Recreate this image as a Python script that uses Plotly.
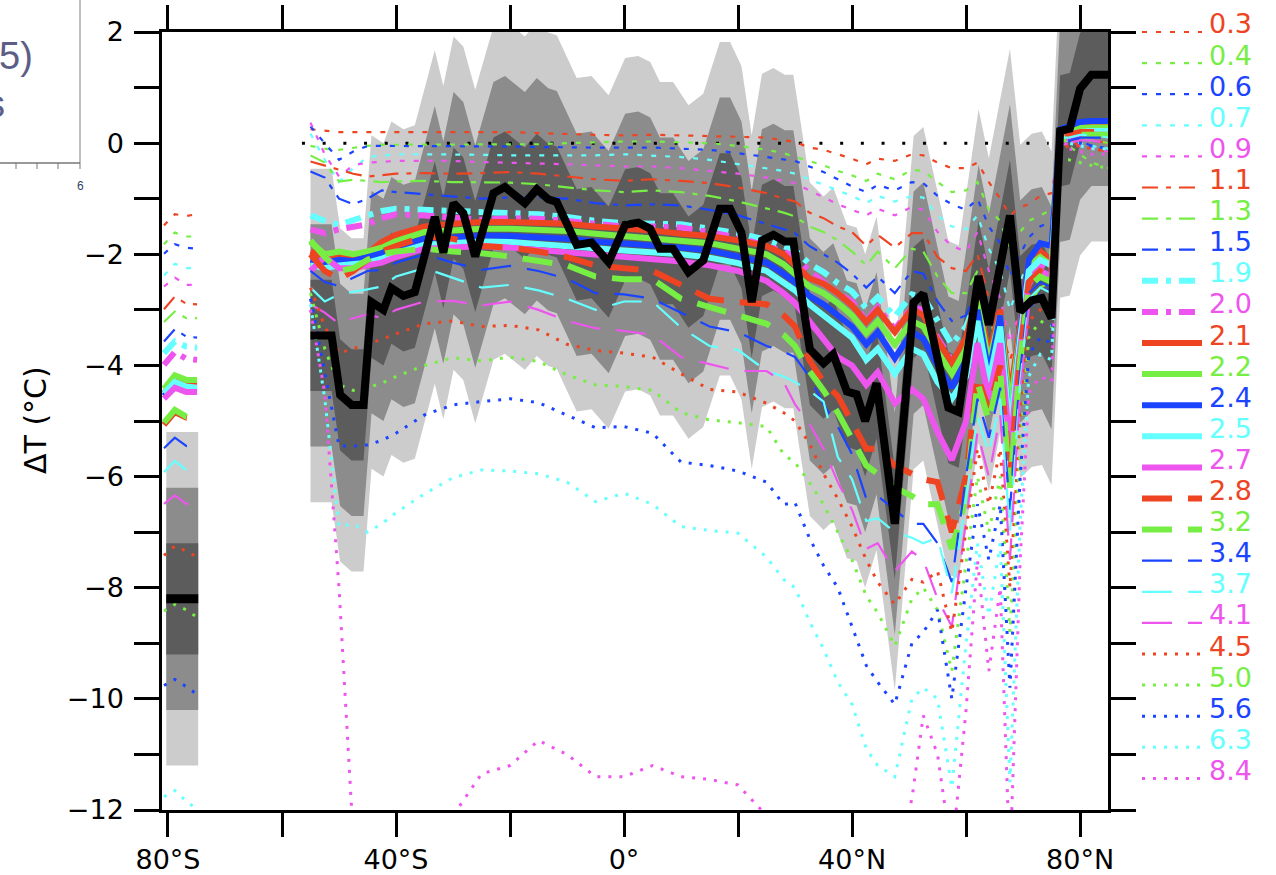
import plotly.graph_objects as go

# ---------------- data ----------------
SENS = ["0.3", "0.4", "0.6", "0.7", "0.9", "1.1", "1.3", "1.5", "1.9", "2.0",
        "2.1", "2.2", "2.4", "2.5", "2.7", "2.8", "3.2", "3.4", "3.7", "4.1",
        "4.5", "5.0", "5.6", "6.3", "8.4"]

LAT_M = [-55, -52.5, -50, -47.5, -45, -42.5, -40, -35, -30, -25, -20, -15, -10, -5,
         0, 5, 10, 15, 20, 25, 28, 30, 32.5, 35, 37.5, 40, 42.5, 44.5, 47.5, 50.5,
         52.5, 55, 57.5, 60, 62, 64, 66, 67.7, 69.5, 71, 73, 75, 76.5, 78, 80, 82, 85]
LAT_ANT = [-80.7, -78.8, -76.8, -74.9]

dT_0_3 = [0.25, 0.22, 0.2, 0.2, 0.2, 0.2, 0.2,
          0.2, 0.19, 0.2, 0.2, 0.18, 0.16, 0.15, 0.14, 0.15, 0.14, 0.13, 0.12, 0.1,
          0.05, 0.02, -0.08, -0.12, -0.2, -0.28, -0.38, -0.28, -0.32, -0.2, -0.22, -0.35, -0.45, -0.45,
          -0.35, -0.7, -1.0, -1.3, -1.15, -1.1, -0.95, -0.9, 0.0, 0.05, -0.05, -0.1, -0.15]
dT_0_4 = [-0.05, -0.1, -0.12, -0.08, -0.05, -0.03, -0.03,
          -0.03, -0.03, -0.02, -0.02, -0.02, 0.0, 0.02, 0.03, 0.03, 0.02, 0.0, -0.05, -0.12,
          -0.18, -0.25, -0.32, -0.4, -0.5, -0.58, -0.68, -0.55, -0.65, -0.48, -0.5, -0.7, -0.88, -0.85,
          -0.7, -1.2, -1.4, -1.9, -1.6, -1.4, -1.3, -1.2, -0.1, -0.05, -0.2, -0.35, -0.45]
dT_0_6 = [0.3, 0.0, -0.3, -0.15, -0.05, -0.05, -0.05,
          -0.05, -0.05, -0.06, -0.06, -0.07, -0.08, -0.08, -0.08, -0.08, -0.1, -0.12, -0.18, -0.25,
          -0.28, -0.32, -0.42, -0.52, -0.65, -0.78, -0.88, -0.75, -0.85, -0.7, -0.72, -0.95, -1.1, -1.2,
          -1.0, -1.5, -1.8, -2.4, -2.0, -1.7, -1.5, -1.4, 0.1, 0.15, 0.05, -0.05, -0.1]
dT_0_7 = [0.17, -0.3, -0.7, -0.45, -0.25, -0.22, -0.2,
          -0.2, -0.2, -0.21, -0.22, -0.22, -0.22, -0.22, -0.2, -0.22, -0.25, -0.3, -0.38, -0.45,
          -0.5, -0.55, -0.65, -0.75, -0.85, -0.95, -1.08, -0.95, -1.05, -0.95, -0.98, -1.3, -1.5, -1.55,
          -1.3, -1.9, -2.3, -3.0, -2.5, -2.1, -1.9, -1.8, 0.0, 0.05, 0.0, -0.05, -0.1]
dT_0_9 = [0.37, -0.2, -0.6, -0.4, -0.35, -0.33, -0.32,
          -0.32, -0.32, -0.34, -0.35, -0.36, -0.38, -0.4, -0.42, -0.42, -0.45, -0.5, -0.55, -0.62,
          -0.68, -0.72, -0.85, -0.98, -1.1, -1.2, -1.3, -1.18, -1.3, -1.15, -1.2, -1.6, -1.85, -1.95,
          -1.6, -2.3, -2.8, -3.6, -3.0, -2.6, -2.3, -2.2, -0.05, 0.0, -0.05, -0.1, -0.15]
dT_1_1 = [-0.33, -0.4, -0.47, -0.55, -0.6, -0.57, -0.55,
          -0.54, -0.55, -0.54, -0.52, -0.55, -0.6, -0.65, -0.68, -0.65, -0.68, -0.72, -0.8, -0.9,
          -1.0, -1.05, -1.25, -1.35, -1.5, -1.6, -1.85, -1.65, -1.88, -1.62, -1.62, -2.05, -2.25, -2.3,
          -2.0, -2.8, -3.3, -3.9, -3.4, -2.7, -2.5, -2.4, 0.1, 0.15, 0.1, 0.05, 0.0]
dT_1_3 = [-0.22, -0.35, -0.69, -0.66, -0.68, -0.7, -0.69,
          -0.68, -0.7, -0.7, -0.71, -0.74, -0.8, -0.85, -0.88, -0.85, -0.88, -0.95, -1.05, -1.18,
          -1.25, -1.32, -1.5, -1.6, -1.75, -1.95, -2.2, -1.95, -2.25, -1.9, -1.95, -2.4, -2.7, -2.7,
          -2.3, -3.2, -3.6, -4.3, -3.8, -2.9, -2.6, -2.5, 0.05, 0.1, 0.1, 0.05, 0.0]
dT_1_5 = [-0.51, -0.62, -1.0, -1.1, -1.0, -0.85, -0.88,
          -0.92, -0.97, -1.0, -0.98, -0.98, -1.0, -1.08, -1.12, -1.1, -1.12, -1.2, -1.3, -1.45,
          -1.55, -1.62, -1.85, -2.0, -2.15, -2.35, -2.6, -2.4, -2.7, -2.3, -2.35, -2.85, -3.2, -3.1,
          -2.6, -3.6, -3.9, -4.7, -4.0, -3.0, -2.7, -2.6, 0.1, 0.15, 0.2, 0.2, 0.15]
dT_1_9 = [-1.3, -1.4, -1.47, -1.38, -1.3, -1.22, -1.18,
          -1.2, -1.24, -1.25, -1.27, -1.28, -1.33, -1.4, -1.44, -1.44, -1.46, -1.54, -1.62, -1.74,
          -1.85, -1.93, -2.17, -2.32, -2.52, -2.67, -2.97, -2.77, -3.12, -2.72, -2.77, -3.22, -3.62, -3.3,
          -2.8, -3.8, -3.4, -4.9, -3.5, -2.4, -2.1, -2.2, 0.2, 0.25, 0.3, 0.3, 0.25]
dT_2_0 = [-1.55, -1.62, -1.55, -1.5, -1.46, -1.35, -1.28,
          -1.3, -1.35, -1.38, -1.35, -1.36, -1.4, -1.46, -1.5, -1.5, -1.52, -1.6, -1.7, -1.85,
          -1.95, -2.05, -2.3, -2.5, -2.7, -2.85, -3.2, -2.95, -3.35, -2.95, -3.0, -3.5, -3.9, -3.6,
          -3.0, -4.0, -3.5, -5.0, -3.6, -2.5, -2.2, -2.3, 0.15, 0.2, 0.25, 0.25, 0.2]
dT_2_1 = [-1.95, -2.05, -2.0, -2.05, -1.98, -1.78, -1.65,
          -1.5, -1.45, -1.42, -1.42, -1.43, -1.45, -1.5, -1.53, -1.57, -1.63, -1.67, -1.75, -1.85,
          -2.0, -2.18, -2.43, -2.53, -2.7, -2.92, -3.22, -3.0, -3.4, -2.98, -3.1, -3.55, -3.95, -3.5,
          -2.7, -3.8, -3.0, -4.6, -3.3, -2.1, -1.95, -2.1, 0.15, 0.22, 0.3, 0.35, 0.35]
dT_2_2 = [-1.78, -2.0, -1.95, -2.0, -1.95, -1.88, -1.76,
          -1.6, -1.57, -1.54, -1.54, -1.56, -1.58, -1.63, -1.67, -1.7, -1.76, -1.8, -1.9, -2.0,
          -2.18, -2.35, -2.58, -2.7, -2.88, -3.1, -3.42, -3.2, -3.62, -3.2, -3.3, -3.75, -4.15, -3.7,
          -2.85, -3.95, -3.1, -4.8, -3.4, -2.2, -2.05, -2.2, 0.2, 0.25, 0.28, 0.28, 0.28]
dT_2_4 = [-2.1, -2.15, -2.1, -2.12, -2.05, -1.98, -1.88,
          -1.72, -1.7, -1.66, -1.67, -1.69, -1.72, -1.77, -1.8, -1.83, -1.88, -1.93, -2.03, -2.15,
          -2.35, -2.5, -2.75, -2.9, -3.1, -3.3, -3.62, -3.4, -3.87, -3.4, -3.52, -4.0, -4.4, -3.9,
          -3.0, -4.15, -3.1, -5.3, -3.4, -2.1, -1.8, -1.85, 0.25, 0.3, 0.38, 0.4, 0.4]
dT_2_5 = [-2.2, -2.25, -2.2, -2.18, -2.15, -2.08, -1.98,
          -1.83, -1.8, -1.77, -1.78, -1.81, -1.84, -1.89, -1.93, -1.96, -2.0, -2.06, -2.16, -2.3,
          -2.5, -2.65, -2.9, -3.1, -3.32, -3.5, -3.9, -3.7, -4.15, -3.7, -3.8, -4.3, -4.6, -4.2,
          -3.2, -4.3, -3.3, -5.2, -3.5, -2.3, -2.1, -2.2, 0.1, 0.15, 0.2, 0.22, 0.22]
dT_2_7 = [-2.3, -2.05, -2.25, -2.25, -2.2, -2.15, -2.05,
          -1.9, -1.88, -1.85, -1.88, -1.92, -1.95, -2.0, -2.05, -2.08, -2.13, -2.2, -2.3, -2.48,
          -2.7, -2.88, -3.2, -3.5, -3.85, -4.0, -4.35, -4.12, -4.68, -4.43, -4.6, -5.2, -5.7, -5.0,
          -3.6, -4.6, -3.6, -5.5, -3.7, -2.5, -2.3, -2.4, 0.05, 0.1, 0.15, 0.15, 0.15]
dT_2_8 = [-2.0, -2.3, -2.45, -2.3, -2.1, -1.95, -1.85,
          -1.68, -1.72, -1.85, -1.88, -1.95, -2.05, -2.2, -2.25, -2.3, -2.55, -2.8, -2.86, -2.9,
          -3.1, -3.3, -3.9, -4.3, -4.55, -5.0, -5.5, -5.5, -5.8, -5.95, -6.05, -6.1, -7.0, -6.0,
          -4.2, -4.8, -4.0, -6.0, -3.8, -2.5, -2.3, -2.4, 0.1, 0.15, 0.2, 0.2, 0.2]
dT_3_2 = [-1.75, -2.05, -2.3, -2.25, -2.1, -2.0, -1.95,
          -1.9, -1.95, -1.98, -2.04, -2.12, -2.2, -2.4, -2.45, -2.45, -2.8, -2.95, -3.1, -3.25,
          -3.45, -3.65, -4.1, -4.45, -4.85, -5.3, -5.8, -5.95, -6.2, -6.35, -6.5, -6.5, -7.3, -6.4,
          -4.3, -5.0, -4.1, -6.2, -3.9, -2.6, -2.4, -2.5, 0.05, 0.1, 0.15, 0.15, 0.15]
dT_3_4 = [-2.3, -2.5, -2.57, -2.42, -2.3, -2.28, -2.15,
          -2.0, -2.15, -2.28, -2.21, -2.3, -2.44, -2.7, -2.72, -2.8, -3.05, -3.3, -3.4, -3.65,
          -3.75, -3.85, -4.2, -4.7, -5.1, -5.6, -6.4, -6.35, -6.6, -6.85, -6.85, -7.2, -7.9, -6.0,
          -4.6, -5.3, -4.4, -6.6, -4.1, -2.7, -2.5, -2.6, 0.0, 0.05, 0.1, 0.1, 0.1]
dT_3_7 = [-2.6, -2.85, -2.72, -2.68, -2.63, -2.58, -2.4,
          -2.25, -2.43, -2.6, -2.55, -2.65, -2.8, -3.0, -2.85, -2.85, -3.32, -3.65, -3.72, -4.1,
          -4.2, -4.3, -4.45, -4.65, -5.65, -6.05, -6.8, -6.75, -7.0, -7.1, -7.2, -7.1, -8.1, -6.4,
          -4.9, -5.6, -4.6, -7.0, -4.3, -2.8, -2.6, -2.7, 0.1, 0.1, 0.15, 0.15, 0.1]
dT_4_1 = [-2.9, -3.05, -3.25, -3.15, -3.08, -3.15, -3.0,
          -2.85, -2.84, -2.92, -2.85, -3.0, -3.2, -3.33, -3.38, -3.45, -3.85, -3.98, -4.1, -4.1,
          -4.3, -4.7, -5.05, -5.5, -6.1, -6.6, -7.3, -7.2, -7.7, -7.35, -7.5, -8.2, -8.7, -6.8,
          -5.2, -6.0, -4.9, -7.5, -4.5, -3.0, -2.8, -2.9, 0.0, 0.0, 0.05, 0.05, 0.0]
dT_4_5 = [-2.6, -3.3, -3.78, -3.7, -3.62, -3.53, -3.43,
          -3.25, -3.2, -3.3, -3.28, -3.36, -3.62, -3.73, -3.78, -3.85, -4.15, -4.43, -4.48, -4.68,
          -4.85, -5.0, -5.4, -5.95, -6.4, -6.9, -7.5, -7.9, -8.3, -7.85, -7.9, -7.7, -8.8, -7.0,
          -5.5, -6.5, -5.5, -8.0, -5.0, -3.2, -3.0, -3.1, -0.1, -0.05, -0.05, -0.1, -0.15]
dT_5_0 = [-2.7, -3.7, -4.35, -4.45, -4.4, -4.32, -4.2,
          -4.0, -3.86, -3.92, -3.85, -3.93, -4.17, -4.35, -4.38, -4.45, -4.85, -4.98, -5.03, -5.1,
          -5.6, -5.75, -6.1, -6.5, -7.0, -7.5, -8.15, -8.45, -9.05, -8.2, -8.0, -8.4, -9.5, -7.5,
          -6.0, -7.0, -6.0, -8.8, -5.5, -3.5, -3.2, -3.3, -0.3, -0.3, -0.35, -0.4, -0.45]
dT_5_6 = [-2.8, -4.1, -5.45, -5.45, -5.43, -5.35, -5.22,
          -4.89, -4.71, -4.65, -4.6, -4.67, -4.9, -5.12, -5.1, -5.22, -5.74, -5.8, -5.9, -6.1,
          -6.5, -6.47, -7.1, -7.6, -8.0, -8.7, -9.4, -9.7, -10.1, -9.0, -8.8, -8.4, -10.0, -8.0,
          -6.5, -7.5, -6.5, -9.8, -6.0, -3.8, -3.5, -3.6, 0.1, 0.05, 0.0, -0.05, -0.1]
dT_6_3 = [-2.9, -4.6, -6.9, -6.85, -7.0, -6.85, -6.65,
          -6.31, -6.02, -5.88, -5.9, -5.95, -6.1, -6.45, -6.3, -6.5, -6.9, -6.97, -7.02, -7.45,
          -7.85, -8.0, -8.6, -9.1, -9.7, -10.1, -10.9, -11.2, -11.4, -10.0, -9.8, -10.0, -11.6, -9.0,
          -7.2, -8.5, -7.2, -11.5, -6.8, -4.2, -3.8, -3.9, 0.0, 0.0, -0.05, -0.1, -0.1]
dT_8_4 = [-3.0, -4.5, -8.0, -12.5, -14.0, -15.0, -15.0,
          -13.5, -12.1, -11.35, -11.2, -10.75, -11.0, -11.4, -11.4, -11.2, -11.4, -11.45, -11.55, -12.1,
          -13.0, -13.5, -14.0, -14.5, -15.0, -15.0, -15.0, -14.5, -13.0, -11.8, -10.3, -11.0, -12.8, -10.2,
          -7.5, -9.5, -8.0, -13.0, -7.5, -4.5, -4.2, -4.3, -0.1, -0.1, -0.15, -0.2, -0.2]

ant_0_3 = [-1.48, -1.28, -1.31, -1.28]
ant_0_4 = [-1.82, -1.61, -1.68, -1.68]
ant_0_6 = [-1.99, -1.82, -1.88, -1.9]
ant_0_7 = [-2.38, -2.17, -2.25, -2.25]
ant_0_9 = [-2.58, -2.42, -2.55, -2.55]
ant_1_1 = [-2.99, -2.76, -2.89, -2.9]
ant_1_3 = [-3.22, -3.03, -3.15, -3.15]
ant_1_5 = [-3.57, -3.35, -3.48, -3.5]
ant_1_9 = [-3.78, -3.57, -3.66, -3.68]
ant_2_0 = [-3.99, -3.76, -3.88, -3.9]
ant_2_1 = [-4.5, -4.25, -4.33, -4.33]
ant_2_2 = [-4.42, -4.18, -4.26, -4.26]
ant_2_4 = [-4.55, -4.34, -4.42, -4.42]
ant_2_5 = [-4.5, -4.3, -4.38, -4.4]
ant_2_7 = [-4.6, -4.4, -4.48, -4.48]
ant_2_8 = [-5.07, -4.84, -4.94, -4.96]
ant_3_2 = [-5.03, -4.8, -4.92, -4.94]
ant_3_4 = [-5.49, -5.3, -5.45, -5.47]
ant_3_7 = [-5.92, -5.72, -5.88, -5.9]
ant_4_1 = [-6.49, -6.34, -6.49, -6.5]
ant_4_5 = [-7.42, -7.25, -7.34, -7.45]
ant_5_0 = [-8.42, -8.3, -8.4, -8.53]
ant_5_6 = [-9.76, -9.65, -9.78, -9.92]
ant_6_3 = [-11.76, -11.65, -11.84, -11.99]
ant_8_4 = [-15.5, -15.4, -15.5, -15.7]

MODEL_DT = [dT_0_3, dT_0_4, dT_0_6, dT_0_7, dT_0_9, dT_1_1, dT_1_3, dT_1_5, dT_1_9, dT_2_0,
            dT_2_1, dT_2_2, dT_2_4, dT_2_5, dT_2_7, dT_2_8, dT_3_2, dT_3_4, dT_3_7, dT_4_1,
            dT_4_5, dT_5_0, dT_5_6, dT_6_3, dT_8_4]
ANT_DT = [ant_0_3, ant_0_4, ant_0_6, ant_0_7, ant_0_9, ant_1_1, ant_1_3, ant_1_5, ant_1_9, ant_2_0,
          ant_2_1, ant_2_2, ant_2_4, ant_2_5, ant_2_7, ant_2_8, ant_3_2, ant_3_4, ant_3_7, ant_4_1,
          ant_4_5, ant_5_0, ant_5_6, ant_6_3, ant_8_4]

# reconstruction (black) and its +-1/2/3 degC uncertainty bands
OBS_LAT = [-55, -51.3, -49.8, -47.8, -45.7, -44.3, -42.2, -40.8, -38.7, -36.7,
           -33.2, -31.7, -29.9, -28.2, -26.1, -22.9, -20.9, -17.4, -15.3, -13.3,
           -11.8, -8.3, -5.7, -2.7, 0.2, 2.5, 4.6, 6.3, 8.6, 11.3,
           13.9, 16.8, 18.6, 20.6, 22.4, 24.2, 26.2, 28.2, 29.7, 32.6,
           35.0, 36.7, 39.1, 40.8, 42.3, 44.3, 47.5, 50.8, 52.5, 56.9,
           58.7, 62.2, 64.0, 67.7, 69.5, 71.5, 73.3, 75.0, 76.5, 78.2,
           80.0, 82.0, 84.9]
OBS_DT = [-3.46, -3.46, -4.53, -4.71, -4.71, -2.86, -3.0, -2.61, -2.75, -2.68,
          -1.33, -1.97, -1.08, -1.26, -2.04, -0.9, -0.79, -1.08, -0.83, -1.01,
          -1.06, -1.83, -1.79, -2.14, -1.47, -1.43, -1.54, -1.9, -1.9, -2.32,
          -2.11, -1.18, -1.18, -1.61, -2.86, -1.75, -1.65, -1.77, -1.77, -3.71,
          -3.96, -3.8, -4.47, -4.52, -5.0, -4.32, -6.85, -2.87, -2.71, -4.76,
          -4.84, -2.39, -3.27, -1.3, -3.03, -2.83, -2.79, -3.15, 0.22, 0.26,
          0.98, 1.23, 1.23]
OBS_ANT_LAT = [-80.3, -74.7]
OBS_ANT_DT = [-8.2, -8.2]
BAND_HALF = [3, 2, 1]
ZERO_LAT = [-56.5, 74.5]
ZERO_DT = [0, 0]

Y_TICKS = list(range(-12, 3))
Y_TEXT = ["\u221212", "", "\u221210", "", "\u22128", "", "\u22126", "", "\u22124", "",
          "\u22122", "", "0", "", "2"]
X_TICKS = [-80, -60, -40, -20, 0, 20, 40, 60, 80]
X_TEXT = ["80\u00b0S", "", "40\u00b0S", "", "0\u00b0", "", "40\u00b0N", "", "80\u00b0N"]

for arr in MODEL_DT:
    if len(arr) != len(LAT_M):
        raise ValueError("bad length %d" % len(arr))
if len(OBS_DT) != len(OBS_LAT):
    raise ValueError("obs length")

# ---------------- styles ----------------
COLORS = ["#ee4422", "#77ee44", "#1a44ff", "#66ffff", "#ee55ee"]
BAND_COLORS = ["#cccccc", "#8c8c8c", "#5c5c5c"]


def style(i):
    if i < 5:
        return "5px,9px", 2.2
    if i < 8:
        return "16px,8px,5px,8px", 2.2
    if i < 10:
        return "16px,8px,5px,8px", 6
    if i < 15:
        return "solid", 6
    if i < 17:
        return "30px,16px", 6
    if i < 20:
        return "30px,16px", 2.2
    return "3px,8px", 3


W, H = 1276, 875
L, R, T, B = 162, 1108, 32, 810


def px(x):
    return (x - L) / (R - L)


def py(y):
    return 1 - (y - T) / (B - T)


fig = go.Figure()


def add_bands(lat, dt):
    for k, col in zip(BAND_HALF, BAND_COLORS):
        up = [v + k for v in dt]
        lo = [v - k for v in dt]
        fig.add_trace(go.Scatter(x=list(lat) + list(lat)[::-1], y=up + lo[::-1],
                                 fill="toself", fillcolor=col, mode="lines",
                                 line=dict(width=0, color=col), hoverinfo="skip",
                                 showlegend=False))


add_bands(OBS_LAT, OBS_DT)
add_bands(OBS_ANT_LAT, OBS_ANT_DT)

fig.add_trace(go.Scatter(x=ZERO_LAT, y=ZERO_DT, mode="lines",
                         line=dict(color="black", width=3, dash="3px,17.7px"),
                         showlegend=False, hoverinfo="skip"))

for i, name in enumerate(SENS):
    dash, w = style(i)
    col = COLORS[i % 5]
    fig.add_trace(go.Scatter(x=LAT_M, y=MODEL_DT[i], mode="lines", name=name,
                             line=dict(color=col, width=w, dash=dash), showlegend=False))
    fig.add_trace(go.Scatter(x=LAT_ANT, y=ANT_DT[i], mode="lines", name=name,
                             line=dict(color=col, width=w, dash=dash), showlegend=False))

fig.add_trace(go.Scatter(x=OBS_LAT, y=OBS_DT, mode="lines",
                         line=dict(color="black", width=8), showlegend=False))
fig.add_trace(go.Scatter(x=OBS_ANT_LAT, y=OBS_ANT_DT, mode="lines",
                         line=dict(color="black", width=9), showlegend=False))

# ---------------- legend (manual) ----------------
shapes = []
annotations = []
for i, name in enumerate(SENS):
    dash, w = style(i)
    col = COLORS[i % 5]
    yc = 24 + i * 31.1
    shapes.append(dict(type="line", xref="paper", yref="paper",
                       x0=px(1142), x1=px(1202), y0=py(yc + 8), y1=py(yc + 8),
                       line=dict(color=col, width=w, dash=dash)))
    annotations.append(dict(xref="paper", yref="paper", x=px(1207), y=py(yc),
                            xanchor="left", yanchor="middle", showarrow=False,
                            text=name, font=dict(family="DejaVu Sans", size=27, color=col)))

# y-axis title
annotations.append(dict(xref="paper", yref="paper", x=px(35), y=py(420),
                        xanchor="center", yanchor="middle", showarrow=False, textangle=-90,
                        text="\u0394T (\u00b0C)", font=dict(family="DejaVu Sans", size=30, color="black")))

# remnants of the neighbouring panel (top-left)
inset_col = "#5d5d86"
annotations.append(dict(xref="paper", yref="paper", x=px(35), y=py(56), xanchor="right",
                        yanchor="middle", showarrow=False, text="5)",
                        font=dict(family="Liberation Sans", size=38, color=inset_col)))
annotations.append(dict(xref="paper", yref="paper", x=px(7), y=py(104), xanchor="right",
                        yanchor="middle", showarrow=False, text="s",
                        font=dict(family="Liberation Sans", size=38, color=inset_col)))
annotations.append(dict(xref="paper", yref="paper", x=px(80), y=py(186), xanchor="center",
                        yanchor="middle", showarrow=False, text="6",
                        font=dict(family="Liberation Sans", size=12, color="#2f3f5f")))
shapes.append(dict(type="line", xref="paper", yref="paper", x0=px(80), x1=px(80),
                   y0=py(-2), y1=py(163), line=dict(color="#aaaaaa", width=1.5)))
shapes.append(dict(type="line", xref="paper", yref="paper", x0=px(-2), x1=px(80),
                   y0=py(163), y1=py(163), line=dict(color="#777777", width=1.5)))
for tx in [16, 37, 58, 80]:
    shapes.append(dict(type="line", xref="paper", yref="paper", x0=px(tx), x1=px(tx),
                       y0=py(163), y1=py(169), line=dict(color="#777777", width=1)))

axis_font = dict(family="DejaVu Sans", size=27, color="black")
fig.update_layout(
    width=W, height=H,
    margin=dict(l=L, r=W - R, t=T, b=H - B, pad=0, autoexpand=False),
    paper_bgcolor="white", plot_bgcolor="white",
    showlegend=False,
    shapes=shapes, annotations=annotations,
    xaxis=dict(range=[-81.05, 84.9], tickvals=X_TICKS, ticktext=X_TEXT,
               ticks="outside", ticklen=24, tickwidth=2.5, tickcolor="black",
               showline=True, linecolor="black", linewidth=2.5, mirror="ticks",
               showgrid=False, zeroline=False, tickfont=axis_font, automargin=False),
    yaxis=dict(range=[-12, 2], tickvals=Y_TICKS, ticktext=Y_TEXT,
               ticks="outside", ticklen=25, tickwidth=2.5, tickcolor="black",
               showline=True, linecolor="black", linewidth=2.5, mirror="ticks",
               showgrid=False, zeroline=False, tickfont=axis_font, automargin=False,
               ticklabelstandoff=5),
)

fig.write_html("out.html")
